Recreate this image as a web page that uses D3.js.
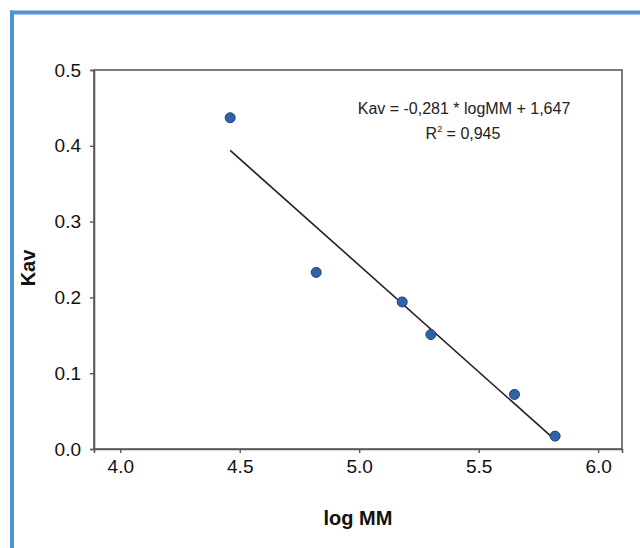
<!DOCTYPE html>
<html><head><meta charset="utf-8">
<script src="https://cdn.jsdelivr.net/npm/d3@7/dist/d3.min.js"></script>
<style>html,body{margin:0;padding:0;background:#fff;}svg{display:block;}</style>
</head><body>
<svg id="chart" width="640" height="548"></svg>
<script>
// Data
const logMM = [4.46, 4.82, 5.18, 5.30, 5.65, 5.82];
const kav = [0.437, 0.233, 0.194, 0.151, 0.072, 0.017];
const fitX = [4.46, 5.82];
const fitY = [0.394, 0.012];
const xTicks = [4.0, 4.5, 5.0, 5.5, 6.0];
const yTicks = [0.0, 0.1, 0.2, 0.3, 0.4, 0.5];
const equationText = "Kav = -0,281 * logMM + 1,647";
const r2Value = "0,945";
const xTitle = "log MM";
const yTitle = "Kav";

const svg = d3.select("#chart");
const font = "Liberation Sans, Arial, sans-serif";
const L = 94, R = 622, T = 70, B = 449;
const x = d3.scaleLinear().domain([3.89, 6.10]).range([L, R]);
const y = d3.scaleLinear().domain([0, 0.5]).range([B, T]);

// blue page border
svg.append("line").attr("x1", 10).attr("x2", 640).attr("y1", 12.5).attr("y2", 12.5)
  .attr("stroke", "#5590d8").attr("stroke-width", 4);
svg.append("line").attr("x1", 12).attr("x2", 12).attr("y1", 10.5).attr("y2", 548)
  .attr("stroke", "#5590d8").attr("stroke-width", 4);

// frame
svg.append("rect").attr("x", L).attr("y", T).attr("width", R - L).attr("height", B - T)
  .attr("fill", "none").attr("stroke", "#5a5a5a").attr("stroke-width", 1.6);

const xAxis = svg.append("g").attr("transform", `translate(0,${B})`)
  .call(d3.axisBottom(x).tickValues(xTicks).tickFormat(d3.format(".1f")).tickSize(4).tickPadding(7));
const yAxis = svg.append("g").attr("transform", `translate(${L},0)`)
  .call(d3.axisLeft(y).tickValues(yTicks).tickFormat(d3.format(".1f")).tickSize(4).tickPadding(9));
[xAxis, yAxis].forEach(g => {
  g.select(".domain").attr("stroke", "#5a5a5a").attr("stroke-width", 1.6);
  g.selectAll(".tick line").attr("stroke", "#5a5a5a").attr("stroke-width", 1.4);
  g.selectAll("text").attr("font-family", font).attr("font-size", 19).attr("fill", "#111");
});

// regression line
svg.append("line")
  .attr("x1", x(fitX[0])).attr("y1", y(fitY[0]))
  .attr("x2", x(fitX[1])).attr("y2", y(fitY[1]))
  .attr("stroke", "#222").attr("stroke-width", 1.6);

// points
svg.append("g").selectAll("circle").data(logMM).join("circle")
  .attr("cx", d => x(d)).attr("cy", (d, i) => y(kav[i])).attr("r", 5)
  .attr("fill", "#2f62a9").attr("stroke", "#1f4275").attr("stroke-width", 1);

// equation
svg.append("text").attr("x", 464).attr("y", 114).attr("text-anchor", "middle")
  .attr("font-family", font).attr("font-size", 16).attr("fill", "#222").text(equationText);
const r2 = svg.append("text").attr("x", 463).attr("y", 139).attr("text-anchor", "middle")
  .attr("font-family", font).attr("font-size", 16).attr("fill", "#222");
r2.append("tspan").text("R");
r2.append("tspan").attr("font-size", 9).attr("dy", -7).text("2");
r2.append("tspan").attr("dy", 7).text(" = " + r2Value);

// axis titles
svg.append("text").attr("x", 358).attr("y", 525).attr("text-anchor", "middle")
  .attr("font-family", font).attr("font-size", 20).attr("font-weight", "bold").attr("fill", "#111")
  .text(xTitle);
svg.append("text").attr("transform", "translate(35,268) rotate(-90)").attr("text-anchor", "middle")
  .attr("font-family", font).attr("font-size", 20).attr("font-weight", "bold").attr("fill", "#111")
  .text(yTitle);
</script>
</body></html>
